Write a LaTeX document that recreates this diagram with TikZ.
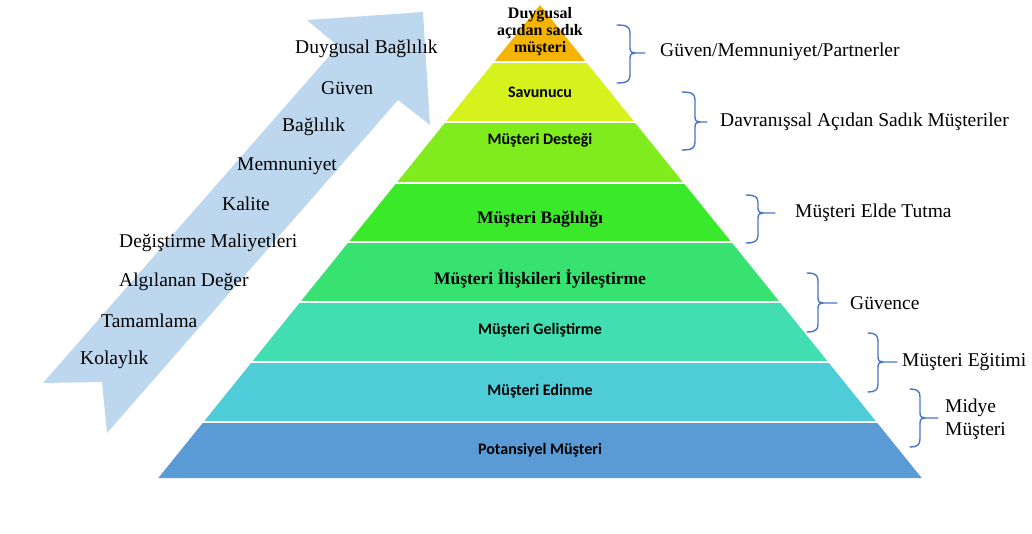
\documentclass[tikz,border=0pt]{standalone}
\usepackage{fontspec}
\setmainfont{Liberation Serif}
\newfontfamily\calib{Carlito}
\usetikzlibrary{calc}
\definecolor{cTop}{HTML}{F5B400}
\definecolor{cSav}{HTML}{D6F21C}
\definecolor{cDes}{HTML}{80EC1E}
\definecolor{cBag}{HTML}{3AEA2A}
\definecolor{cIli}{HTML}{38E270}
\definecolor{cGel}{HTML}{40DEB0}
\definecolor{cEdi}{HTML}{4ECCD8}
\definecolor{cPot}{HTML}{5B9BD5}
\definecolor{cArrow}{HTML}{BDD7EE}
\definecolor{cBrace}{HTML}{4A76C8}
\newcommand\mybrace[6]{% xv, top, mid, bot, hook x, tip x
  \draw[bracestyle] ({#5},{#2}) .. controls ({#1-3},{#2}) and ({#1},{#2+2}) .. ({#1},{#2+8})
    -- ({#1},{#3-5}) .. controls ({#1},{#3-1}) and ({#1+2},{#3}) .. ({#1+5},{#3}) -- ({#6},{#3});
  \draw[bracestyle] ({#1+5},{#3}) .. controls ({#1+2},{#3}) and ({#1},{#3+1}) .. ({#1},{#3+5})
    -- ({#1},{#4-8}) .. controls ({#1},{#4-2}) and ({#1-3},{#4}) .. ({#5},{#4});
}
\begin{document}
\begin{tikzpicture}[x=1pt,y=-1pt,
  bracestyle/.style={draw=cBrace, line width=1.4pt, line cap=round},
  sep/.style={draw=white, line width=2.2pt},
  serifbold/.style={font=\bfseries\fontsize{17.5}{19}\selectfont},
  sansbold/.style={font=\calib\bfseries\fontsize{16}{18}\selectfont},
  rlabel/.style={anchor=west, font=\fontsize{19.5}{23}\selectfont, inner sep=0pt},
  llabel/.style={anchor=west, font=\fontsize{19.5}{23}\selectfont, inner sep=0pt}]
\useasboundingbox (0,0) rectangle (1032,534);

% arrow
\fill[cArrow] (43,383) -- (338,46) -- (307,20) -- (423,12) -- (430,125) -- (398,100)
  -- (107,433) -- (102,382) -- cycle;

% pyramid bands
\fill[cTop] (540,5) -- (586,62) -- (494,62) -- cycle;
\fill[cSav] (494,62) -- (586,62) -- (634.4,122) -- (445.6,122) -- cycle;
\fill[cDes] (445.6,122) -- (634.4,122) -- (683.6,183) -- (396.4,183) -- cycle;
\fill[cBag] (396.4,183) -- (683.6,183) -- (731.3,242) -- (348.7,242) -- cycle;
\fill[cIli] (348.7,242) -- (731.3,242) -- (779.7,302) -- (300.3,302) -- cycle;
\fill[cGel] (300.3,302) -- (779.7,302) -- (828.1,362) -- (251.9,362) -- cycle;
\fill[cEdi] (251.9,362) -- (828.1,362) -- (876.5,422) -- (203.5,422) -- cycle;
\fill[cPot] (203.5,422) -- (876.5,422) -- (921.7,478) -- (158.3,478) -- cycle;
\foreach \y/\l/\r in {62/492/588, 122/443/637, 183/394/686, 242/346/734, 302/298/782, 362/249/831, 422/201/879}
  \draw[sep] (\l,\y) -- (\r,\y);

% pyramid texts
\node[align=center, font=\bfseries\fontsize{16}{17}\selectfont, inner sep=0pt] (t1) at (540,32) {Duygusal\\açıdan sadık\\müşteri};
\node[sansbold] (t2) at (540,92) {Savunucu};
\node[sansbold] (t3) at (540,140) {Müşteri Desteği};
\node[serifbold] (t4) at (540,219) {Müşteri Bağlılığı};
\node[serifbold] (t5) at (540,279) {Müşteri İlişkileri İyileştirme};
\node[sansbold] (t6) at (540,330) {Müşteri Geliştirme};
\node[sansbold] (t7) at (540,391) {Müşteri Edinme};
\node[sansbold] (t8) at (540,450) {Potansiyel Müşteri};

% braces and right labels
\mybrace{630}{25}{53}{83}{617}{645}
\node[rlabel] (r1) at (660,52) {Güven/Memnuniyet/Partnerler};
\mybrace{695}{92}{122}{150}{682}{707}
\node[rlabel] (r2) at (720,122) {Davranışsal Açıdan Sadık Müşteriler};
\mybrace{758}{195}{213}{243}{746}{775}
\node[rlabel] (r3) at (795,213) {Müşteri Elde Tutma};
\mybrace{818}{273}{303}{332}{807}{837}
\node[rlabel] (r4) at (850,303) {Güvence};
\mybrace{878}{333}{362}{392}{868}{897}
\node[rlabel] (r5) at (902,362) {Müşteri Eğitimi};
\mybrace{920}{389}{418}{447}{910}{938}
\node[rlabel, align=left] (r6) at (945,419) {Midye\\Müşteri};

% arrow labels
\node[llabel] (l1) at (295,49) {Duygusal Bağlılık};
\node[llabel] (l2) at (321,88) {Güven};
\node[llabel] (l3) at (282,127) {Bağlılık};
\node[llabel] (l4) at (237,166) {Memnuniyet};
\node[llabel] (l5) at (222,204) {Kalite};
\node[llabel] (l6) at (119,243) {Değiştirme Maliyetleri};
\node[llabel] (l7) at (119,282) {Algılanan Değer};
\node[llabel] (l8) at (101,321) {Tamamlama};
\node[llabel] (l9) at (80,360) {Kolaylık};
\end{tikzpicture}
\end{document}
